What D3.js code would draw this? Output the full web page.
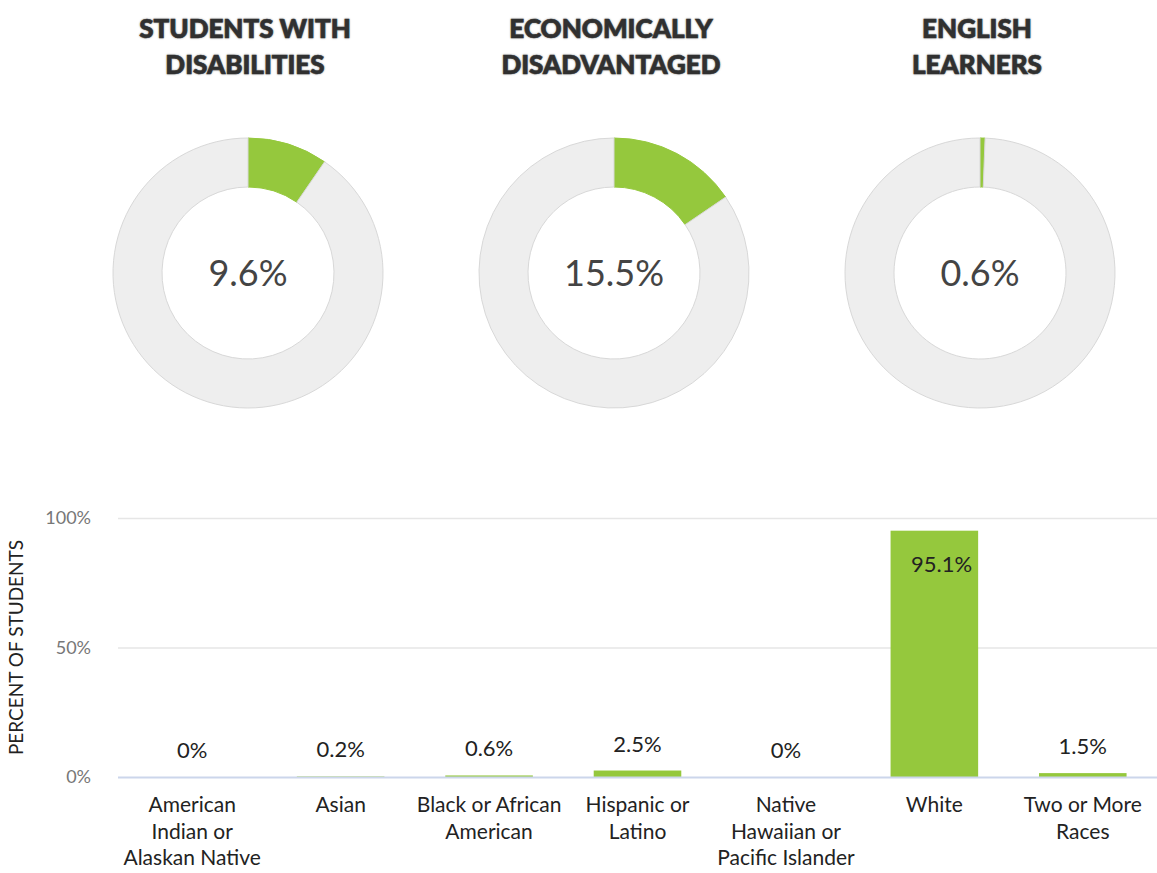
<!DOCTYPE html>
<html>
<head>
<meta charset="utf-8">
<script src="https://cdn.jsdelivr.net/npm/d3@7"></script>
<style>
  body { margin: 0; background: #fff; font-family: Lato, "Open Sans", sans-serif; }
</style>
</head>
<body>
<div id="chart"></div>
<script>
// donut data
const donutTitles = [["STUDENTS WITH", "DISABILITIES"], ["ECONOMICALLY", "DISADVANTAGED"], ["ENGLISH", "LEARNERS"]];
const donutValues = [9.6, 15.5, 0.6];

// bar data
const categories = [
    ["American", "Indian or", "Alaskan Native"],
    ["Asian"],
    ["Black or African", "American"],
    ["Hispanic or", "Latino"],
    ["Native", "Hawaiian or", "Pacific Islander"],
    ["White"],
    ["Two or More", "Races"]
];
const barValues = [0, 0.2, 0.6, 2.5, 0, 95.1, 1.5];
const yTicks = [0, 50, 100];

const green = "#95c83d";
const W = 1157, H = 873;

const svg = d3.select("#chart").append("svg")
    .attr("width", W)
    .attr("height", H);

// Donuts
const centers = [248, 614, 980];
const cy = 273;
const arc = d3.arc().innerRadius(86).outerRadius(135);
const pie = d3.pie().sort(null).value(d => d);

donutValues.forEach((v, i) => {
    const g = svg.append("g").attr("transform", `translate(${centers[i]},${cy})`);

    g.selectAll("path")
        .data(pie([v, 100 - v]))
        .enter()
        .append("path")
        .attr("d", arc)
        .attr("fill", (d, j) => j === 0 ? green : "#eeeeee")
        .attr("stroke", (d, j) => j === 0 ? green : "#d8d8d8")
        .attr("stroke-width", 1);

    g.append("text")
        .attr("text-anchor", "middle")
        .attr("dy", "0.35em")
        .attr("font-size", 36)
        .attr("fill", "#444")
        .text(v + "%");

    svg.append("text")
        .attr("x", centers[i] - 3)
        .attr("y", 38)
        .attr("text-anchor", "middle")
        .attr("font-size", 26)
        .attr("font-weight", 900)
        .attr("fill", "#333")
        .attr("stroke", "#333")
        .attr("stroke-width", 0.7)
        .style("text-shadow", "0 0 2px rgba(0,0,0,0.35)")
        .selectAll("tspan")
        .data(donutTitles[i])
        .enter()
        .append("tspan")
        .attr("x", centers[i] - 3)
        .attr("dy", (d, j) => j === 0 ? 0 : 36)
        .text(d => d);
});

// Bar chart
const plotLeft = 118, plotRight = 1157, plotTop = 518, plotBottom = 777;

const x = d3.scaleBand()
    .domain(d3.range(categories.length))
    .range([plotLeft, plotRight])
    .paddingInner(0.41)
    .paddingOuter(0.205);

const y = d3.scaleLinear()
    .domain([0, 100])
    .range([plotBottom, plotTop]);

// gridlines
svg.append("g")
    .selectAll("line")
    .data(yTicks.filter(d => d > 0))
    .enter()
    .append("line")
    .attr("x1", plotLeft)
    .attr("x2", plotRight)
    .attr("y1", d => y(d) + 0.5)
    .attr("y2", d => y(d) + 0.5)
    .attr("stroke", "#e6e6e6")
    .attr("stroke-width", 1.5);

// y tick labels
svg.append("g")
    .selectAll("text")
    .data(yTicks)
    .enter()
    .append("text")
    .attr("x", 91)
    .attr("y", d => y(d))
    .attr("dy", "0.35em")
    .attr("text-anchor", "end")
    .attr("font-size", 18)
    .attr("fill", "#777")
    .text(d => d + "%");

// y title
svg.append("text")
    .attr("transform", `translate(23,${(plotTop + plotBottom) / 2}) rotate(-90)`)
    .attr("text-anchor", "middle")
    .attr("font-size", 19)
    .attr("fill", "#222")
    .text("PERCENT OF STUDENTS");

// bars
svg.append("g")
    .selectAll("rect")
    .data(barValues)
    .enter()
    .append("rect")
    .attr("x", (d, i) => x(i))
    .attr("y", d => y(d))
    .attr("width", x.bandwidth())
    .attr("height", d => plotBottom - y(d))
    .attr("fill", green);

// x axis line on top of bars
svg.append("line")
    .attr("x1", plotLeft)
    .attr("x2", plotRight)
    .attr("y1", y(0) + 0.5)
    .attr("y2", y(0) + 0.5)
    .attr("stroke", "#ccd6eb")
    .attr("stroke-width", 2);

// value labels
svg.append("g")
    .selectAll("text")
    .data(barValues)
    .enter()
    .append("text")
    .attr("x", (d, i) => d > 50 ? x(i) + x.bandwidth() - 6 : x(i) + x.bandwidth() / 2)
    .attr("y", d => d > 50 ? y(d) + 41 : y(d) - 19)
    .attr("text-anchor", d => d > 50 ? "end" : "middle")
    .attr("font-size", 22)
    .attr("fill", "#222")
    .text(d => d + "%");

// category labels
svg.append("g")
    .selectAll("text")
    .data(categories)
    .enter()
    .append("text")
    .attr("text-anchor", "middle")
    .attr("font-size", 21)
    .attr("fill", "#222")
    .each(function(d, i) {
        d3.select(this).selectAll("tspan")
            .data(d)
            .enter()
            .append("tspan")
            .attr("x", x(i) + x.bandwidth() / 2)
            .attr("y", (t, j) => 812 + j * 26.5)
            .text(t => t);
    });
</script>
</body>
</html>
